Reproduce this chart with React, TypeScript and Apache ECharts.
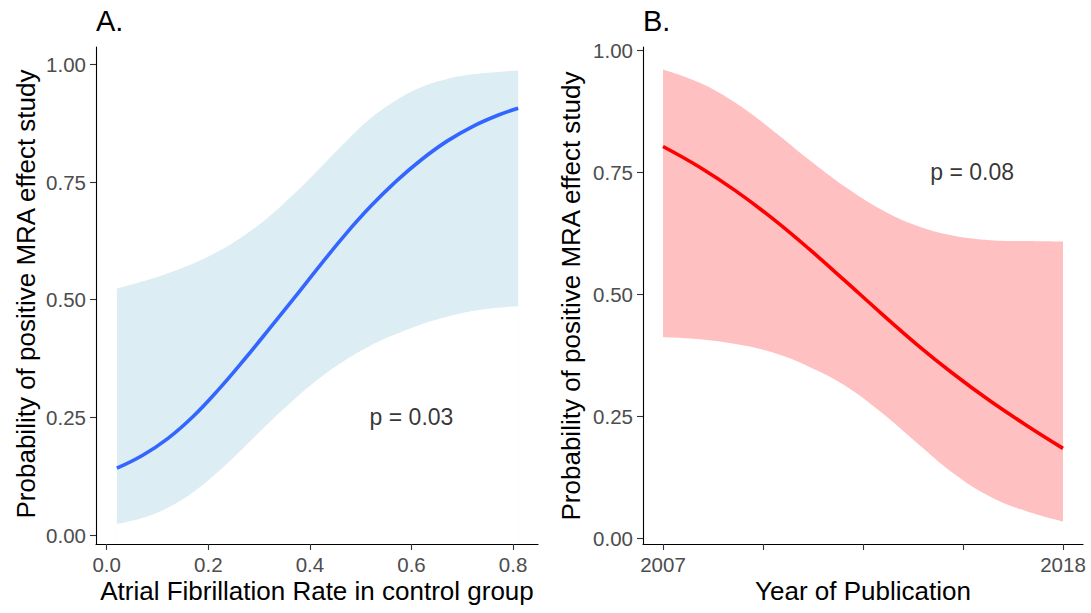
import React, { useEffect, useRef } from "react";
import * as echarts from "echarts";

// Panel A: atrial fibrillation rate in the control group
const afRate = [0.02, 0.07, 0.12, 0.17, 0.22, 0.27, 0.32, 0.37, 0.42, 0.47, 0.52, 0.57, 0.62, 0.67, 0.72, 0.77, 0.81];
const afFit = [0.142, 0.169, 0.205, 0.252, 0.309, 0.372, 0.438, 0.505, 0.573, 0.639, 0.699, 0.752, 0.798, 0.837, 0.868, 0.892, 0.907];
const afUpper = [0.524, 0.539, 0.556, 0.577, 0.603, 0.636, 0.677, 0.726, 0.78, 0.835, 0.886, 0.924, 0.952, 0.969, 0.979, 0.984, 0.987];
const afLower = [0.023, 0.036, 0.058, 0.091, 0.135, 0.186, 0.239, 0.289, 0.334, 0.372, 0.403, 0.427, 0.448, 0.464, 0.476, 0.483, 0.486];

// Panel B: year of publication
const years = [2007, 2008, 2009, 2010, 2011, 2012, 2013, 2014, 2015, 2016, 2017, 2018];
const yearFit = [0.803, 0.761, 0.712, 0.656, 0.594, 0.528, 0.461, 0.396, 0.336, 0.281, 0.231, 0.184];
const yearUpper = [0.961, 0.934, 0.892, 0.837, 0.777, 0.721, 0.674, 0.64, 0.62, 0.611, 0.609, 0.608];
const yearLower = [0.412, 0.408, 0.398, 0.381, 0.352, 0.313, 0.258, 0.194, 0.132, 0.085, 0.055, 0.034];

const probTicks = [0, 0.25, 0.5, 0.75, 1];
const afTicks = [0, 0.2, 0.4, 0.6, 0.8];
const yearTicks = [2007, 2009.75, 2012.5, 2015.25, 2018];
const yearLabels = [2007, 2018];

const pValueA = { x: 0.6, y: 0.25, text: "p = 0.03" };
const pValueB = { x: 2015.5, y: 0.75, text: "p = 0.08" };

const yTitle = "Probability of positive MRA effect study";
const xTitleA = "Atrial Fibrillation Rate in control group";
const xTitleB = "Year of Publication";

const FONT = "'Liberation Sans', Arial, Helvetica, sans-serif";

const zip = (xs: number[], ys: number[]) => xs.map((x, i) => [x, ys[i]]);

function axisPair(
  idx: number,
  xMin: number,
  xMax: number,
  yMin: number,
  yMax: number,
  xTickValues: number[],
  xLabelValues: number[],
  xFmt: (v: number) => string
) {
  const lineStyle = { color: "#000", width: 1.1 };
  const tickStyle = { color: "#333", width: 1.1 };
  const label = { color: "#4d4d4d", fontSize: 20.5, fontFamily: FONT };
  const xAxis = {
    type: "value",
    gridIndex: idx,
    min: xMin,
    max: xMax,
    z: 10,
    splitLine: { show: false },
    axisLine: { show: true, onZero: false, lineStyle },
    axisTick: { show: true, length: 6, lineStyle: tickStyle, customValues: xTickValues },
    axisLabel: { ...label, margin: 10, customValues: xLabelValues, formatter: (v: number) => xFmt(v) },
  };
  const yAxis = {
    type: "value",
    gridIndex: idx,
    min: yMin,
    max: yMax,
    z: 10,
    splitLine: { show: false },
    axisLine: { show: true, onZero: false, lineStyle },
    axisTick: { show: true, length: 6, lineStyle: tickStyle, customValues: probTicks },
    axisLabel: { ...label, margin: 10, customValues: probTicks, formatter: (v: number) => v.toFixed(2) },
  };
  return { xAxis, yAxis };
}

function bandSeries(idx: number, xs: number[], fit: number[], lo: number[], hi: number[], fill: string, lineColor: string, p: { x: number; y: number; text: string }) {
  const common = {
    type: "line",
    xAxisIndex: idx,
    yAxisIndex: idx,
    smooth: 0.4,
    symbol: "none",
    silent: true,
  };
  return [
    // confidence band: filled down from the upper bound, then masked below the lower bound
    { ...common, z: 1, data: zip(xs, hi), lineStyle: { opacity: 0 }, areaStyle: { color: fill, opacity: 1, origin: "start" } },
    { ...common, z: 2, data: zip(xs, lo), lineStyle: { opacity: 0 }, areaStyle: { color: "#ffffff", opacity: 1, origin: "start" } },
    // fitted probability
    { ...common, z: 3, data: zip(xs, fit), lineStyle: { color: lineColor, width: 3.6 } },
    {
      type: "scatter",
      xAxisIndex: idx,
      yAxisIndex: idx,
      z: 4,
      symbolSize: 0,
      silent: true,
      data: [[p.x, p.y]],
      label: {
        show: true,
        position: "inside",
        formatter: p.text,
        color: "#000",
        fontSize: 23,
        fontFamily: FONT,
      },
    },
  ];
}

export default function App() {
  const ref = useRef<HTMLDivElement>(null);

  useEffect(() => {
    if (!ref.current) return;
    const chart = echarts.init(ref.current, undefined, { renderer: "svg" });

    const a = axisPair(0, -0.0211, 0.849, -0.019, 1.037, afTicks, afTicks, (v) => v.toFixed(1));
    const b = axisPair(1, 2006.45, 2018.55, -0.012, 1.007, yearTicks, yearLabels, (v) => String(Math.round(v)));

    const titleStyle = { fill: "#000", fontSize: 26, fontFamily: FONT };

    chart.setOption({
      animation: false,
      backgroundColor: "#ffffff",
      grid: [
        { left: 96, top: 47, width: 442, height: 497 },
        { left: 643, top: 47, width: 440, height: 497 },
      ],
      xAxis: [a.xAxis, b.xAxis],
      yAxis: [a.yAxis, b.yAxis],
      series: [
        ...bandSeries(0, afRate, afFit, afLower, afUpper, "#ddedf4", "#3366ff", pValueA),
        ...bandSeries(1, years, yearFit, yearLower, yearUpper, "#ffc0c2", "#ff0000", pValueB),
      ],
      graphic: [
        { type: "text", x: 96, y: 21, style: { text: "A.", fontSize: 29, fontFamily: FONT, fill: "#000", textVerticalAlign: "middle" } },
        { type: "text", x: 643, y: 21, style: { text: "B.", fontSize: 29, fontFamily: FONT, fill: "#000", textVerticalAlign: "middle" } },
        { type: "text", x: 26, y: 294, rotation: Math.PI / 2, style: { ...titleStyle, text: yTitle, textAlign: "center", textVerticalAlign: "middle" } },
        { type: "text", x: 571, y: 296, rotation: Math.PI / 2, style: { ...titleStyle, text: yTitle, textAlign: "center", textVerticalAlign: "middle" } },
        { type: "text", x: 317, y: 591, style: { ...titleStyle, text: xTitleA, textAlign: "center", textVerticalAlign: "middle" } },
        { type: "text", x: 863, y: 591, style: { ...titleStyle, text: xTitleB, textAlign: "center", textVerticalAlign: "middle" } },
      ],
    });

    return () => chart.dispose();
  }, []);

  return <div ref={ref} style={{ position: "fixed", left: 0, top: 0, width: 1091, height: 613, background: "#fff" }} />;
}
